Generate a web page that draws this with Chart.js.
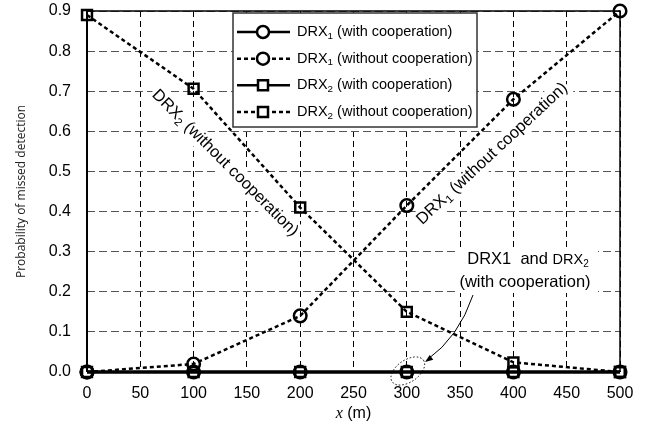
<!DOCTYPE html>
<html>
<head>
<meta charset="utf-8">
<script src="https://cdn.jsdelivr.net/npm/chart.js@4/dist/chart.umd.min.js"></script>
<style>
html,body{margin:0;padding:0;background:#fff;}
canvas{display:block;}
</style>
</head>
<body>
<canvas id="c" width="647" height="427"></canvas>
<script>
// ---- data ----
const xValues = [0, 100, 200, 300, 400, 500];
const drx1With = [0, 0, 0, 0, 0, 0];
const drx1Without = [0, 0.02, 0.14, 0.415, 0.68, 0.9];
const drx2With = [0, 0, 0, 0, 0, 0];
const drx2Without = [0.89, 0.706, 0.41, 0.15, 0.024, 0];
const xTickValues = [0, 50, 100, 150, 200, 250, 300, 350, 400, 450, 500];
const yTickValues = [0, 0.1, 0.2, 0.3, 0.4, 0.5, 0.6, 0.7, 0.8, 0.9];
const legendLabels = [
  ['DRX', '1', ' (with cooperation)'],
  ['DRX', '1', ' (without cooperation)'],
  ['DRX', '2', ' (with cooperation)'],
  ['DRX', '2', ' (without cooperation)']
];

const SANS = '"Liberation Sans", Arial, sans-serif';

function pts(ys) { return xValues.map((x, i) => ({x: x, y: ys[i]})); }

function ds(label, ys, style, dashed) {
  return {
    label: label,
    data: pts(ys),
    borderColor: '#000',
    backgroundColor: 'rgba(0,0,0,0)',
    borderWidth: dashed ? 2.5 : 3,
    borderDash: dashed ? [4, 3] : [],
    pointStyle: style,
    pointRadius: style === 'rect' ? 7 : 6.3,
    pointBorderWidth: 2.5,
    pointBorderColor: '#000',
    pointBackgroundColor: 'rgba(0,0,0,0)',
    tension: 0,
    clip: false
  };
}

function drawSubText(ctx, parts, x, y, size, align, bg) {
  const f1 = size + 'px ' + SANS;
  const f2 = (size * 0.68) + 'px ' + SANS;
  ctx.font = f1; const w1 = ctx.measureText(parts[0]).width;
  ctx.font = f2; const w2 = ctx.measureText(parts[1]).width;
  ctx.font = f1; const w3 = ctx.measureText(parts[2]).width;
  let sx = x;
  if (align === 'center') sx = x - (w1 + w2 + w3) / 2;
  if (bg) {
    ctx.fillStyle = '#fff';
    ctx.fillRect(sx - 2, y - size * 0.6, w1 + w2 + w3 + 4, size * 1.25);
    ctx.fillStyle = '#000';
  }
  ctx.textAlign = 'left';
  ctx.textBaseline = 'middle';
  ctx.font = f1; ctx.fillText(parts[0], sx, y);
  ctx.font = f2; ctx.fillText(parts[1], sx + w1, y + size * 0.28);
  ctx.font = f1; ctx.fillText(parts[2], sx + w1 + w2, y);
}

const decor = {
  id: 'decor',
  beforeDraw(chart) {
    const ctx = chart.ctx;
    ctx.save();
    ctx.fillStyle = '#fff';
    ctx.fillRect(0, 0, chart.width, chart.height);
    ctx.restore();
  },
  beforeDatasetsDraw(chart) {
    const ctx = chart.ctx;
    const xs = chart.scales.x, ys = chart.scales.y;
    ctx.save();
    ctx.fillStyle = '#000';
    // rotated annotation: DRX2 (without cooperation)
    let px = xs.getPixelForValue(129.5), py = ys.getPixelForValue(0.521);
    ctx.save();
    ctx.translate(px, py);
    ctx.rotate(Math.PI / 4);
    drawSubText(ctx, ['DRX', '2', ' (without cooperation)'], 0, 0, 16.5, 'center', true);
    ctx.restore();

    // rotated annotation: DRX1 (without cooperation)
    px = xs.getPixelForValue(380); py = ys.getPixelForValue(0.544);
    ctx.save();
    ctx.translate(px, py);
    ctx.rotate(-43 * Math.PI / 180);
    drawSubText(ctx, ['DRX', '1', ' (without cooperation)'], 0, 0, 16.5, 'center', true);
    ctx.restore();

    // "DRX1  and DRX2 (with cooperation)"
    ctx.fillStyle = '#fff';
    ctx.fillRect(456, 248, 142, 45);
    ctx.fillStyle = '#000';
    ctx.textBaseline = 'middle';
    const cx = 528;
    const f16 = '16.5px ' + SANS, f14 = '14.5px ' + SANS, f10 = '10px ' + SANS;
    ctx.font = f16; const wa = ctx.measureText('DRX1  and ').width;
    ctx.font = f14; const wb = ctx.measureText('DRX').width;
    ctx.font = f10; const wc = ctx.measureText('2').width;
    let sx = cx - (wa + wb + wc) / 2;
    ctx.textAlign = 'left';
    ctx.font = f16; ctx.fillText('DRX1  and ', sx, 259);
    ctx.font = f14; ctx.fillText('DRX', sx + wa, 260);
    ctx.font = f10; ctx.fillText('2', sx + wa + wb, 264);
    ctx.font = f16; ctx.textAlign = 'center';
    ctx.fillText('(with cooperation)', 525, 282);
    ctx.restore();
  },
  afterDraw(chart) {
    const ctx = chart.ctx;
    const xs = chart.scales.x, ys = chart.scales.y;
    const a = chart.chartArea;
    ctx.save();
    // plot frame
    ctx.strokeStyle = '#000';
    ctx.setLineDash([]);
    ctx.lineWidth = 1.5;
    ctx.beginPath();
    ctx.moveTo(a.left, a.top); ctx.lineTo(a.right, a.top); ctx.lineTo(a.right, a.bottom);
    ctx.stroke();
    ctx.lineWidth = 2;
    ctx.beginPath();
    ctx.moveTo(a.left, a.top); ctx.lineTo(a.left, a.bottom);
    ctx.stroke();

    // legend
    const lx = 233, ly = 13, lw = 244, lh = 114;
    ctx.fillStyle = '#fff';
    ctx.fillRect(lx, ly, lw, lh);
    ctx.strokeStyle = '#333';
    ctx.lineWidth = 1.5;
    ctx.strokeRect(lx, ly, lw, lh);
    const rowsY = [32, 58.7, 85.3, 112];
    legendLabels.forEach((lab, i) => {
      const y = rowsY[i];
      const dashed = (i % 2) === 1;
      ctx.strokeStyle = '#000';
      ctx.lineWidth = 2.5;
      ctx.setLineDash(dashed ? [4, 3] : []);
      ctx.beginPath(); ctx.moveTo(237, y); ctx.lineTo(290, y); ctx.stroke();
      ctx.setLineDash([]);
      ctx.lineWidth = 2.5;
      ctx.fillStyle = '#fff';
      ctx.beginPath();
      if (i < 2) {
        ctx.arc(263, y, 6, 0, Math.PI * 2);
      } else {
        ctx.rect(258, y - 5, 10, 10);
      }
      ctx.fill();
      ctx.stroke();
      ctx.fillStyle = '#000';
      drawSubText(ctx, lab, 297, y, 14.5, 'left', false);
    });

    // arrow
    ctx.fillStyle = '#000';
    ctx.strokeStyle = '#000';
    ctx.lineWidth = 1;
    ctx.setLineDash([]);
    ctx.beginPath();
    ctx.moveTo(473, 295);
    ctx.quadraticCurveTo(459, 337, 427, 360);
    ctx.stroke();
    const ang = Math.atan2(360 - 337, 427 - 459);
    ctx.save();
    ctx.translate(425, 362);
    ctx.rotate(ang);
    ctx.beginPath();
    ctx.moveTo(0, 0); ctx.lineTo(-8, -3); ctx.lineTo(-8, 3); ctx.closePath();
    ctx.fill();
    ctx.restore();

    // dotted ellipse around x=300, y=0
    let px = xs.getPixelForValue(300), py = ys.getPixelForValue(0);
    ctx.lineWidth = 1;
    ctx.setLineDash([1.5, 2]);
    ctx.beginPath();
    ctx.ellipse(px + 1, py - 1, 19, 11, -0.6, 0, Math.PI * 2);
    ctx.stroke();
    ctx.setLineDash([]);

    // x axis title
    const tx = (a.left + a.right) / 2, ty = 414;
    ctx.textBaseline = 'middle';
    ctx.font = 'italic 16px "Liberation Serif", serif';
    const wx = ctx.measureText('x').width;
    ctx.font = '16px ' + SANS;
    const wm = ctx.measureText(' (m)').width;
    let tsx = tx - (wx + wm) / 2;
    ctx.textAlign = 'left';
    ctx.font = 'italic 16px "Liberation Serif", serif';
    ctx.fillText('x', tsx, ty);
    ctx.font = '16px ' + SANS;
    ctx.fillText(' (m)', tsx + wx, ty);

    // y axis title
    ctx.save();
    ctx.translate(22, (a.top + a.bottom) / 2);
    ctx.rotate(-Math.PI / 2);
    ctx.textAlign = 'center';
    ctx.font = '12px "Open Sans", sans-serif';
    ctx.fillStyle = '#222';
    ctx.fillText('Probability of missed detection', 0, 0);
    ctx.restore();

    ctx.restore();
  }
};

new Chart(document.getElementById('c'), {
  type: 'line',
  data: {
    datasets: [
      ds('DRX1 (with cooperation)', drx1With, 'circle', false),
      ds('DRX1 (without cooperation)', drx1Without, 'circle', true),
      ds('DRX2 (with cooperation)', drx2With, 'rect', false),
      ds('DRX2 (without cooperation)', drx2Without, 'rect', true)
    ]
  },
  options: {
    responsive: false,
    animation: false,
    devicePixelRatio: 1,
    layout: { padding: { left: 0, right: 27, top: 11, bottom: 0 } },
    plugins: { legend: { display: false }, tooltip: { enabled: false } },
    scales: {
      x: {
        type: 'linear', min: 0, max: 500,
        afterBuildTicks: s => { s.ticks = xTickValues.map(v => ({value: v})); },
        afterFit: s => { s.height = 55; s.paddingLeft = 0; s.paddingRight = 0; s.paddingTop = 0; s.paddingBottom = 0; },
        ticks: { color: '#000', font: { family: SANS, size: 16 }, padding: 12, maxRotation: 0 },
        grid: { color: '#000', lineWidth: 1, drawTicks: false },
        border: { display: false, dash: [6, 4] }
      },
      y: {
        type: 'linear', min: 0, max: 0.9,
        afterBuildTicks: s => { s.ticks = yTickValues.map(v => ({value: v})); },
        afterFit: s => { s.width = 87; s.paddingTop = 0; s.paddingBottom = 0; s.paddingLeft = 0; s.paddingRight = 0; },
        ticks: { color: '#000', font: { family: SANS, size: 16 }, padding: 16,
                 callback: v => Number(v).toFixed(1) },
        grid: { color: '#555', lineWidth: 1, drawTicks: false },
        border: { display: false, dash: [8, 4] }
      }
    }
  },
  plugins: [decor]
});
</script>
</body>
</html>
